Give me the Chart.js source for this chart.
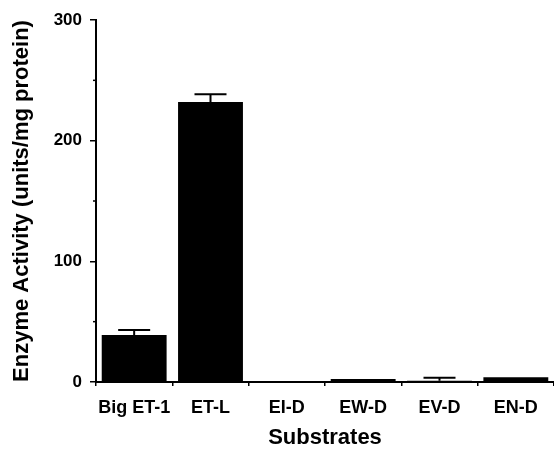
<!DOCTYPE html>
<html lang="en">
<head>
    <meta charset="UTF-8">
    <title>Enzyme Activity by Substrate</title>
    <script src="https://cdn.jsdelivr.net/npm/chart.js"></script>
    <style>
        body { margin: 0; background: #fff; }
    </style>
</head>
<body>
    <canvas id="enzymeChart" width="554" height="449"></canvas>

    <script>
        // Data
        const substrates = ["Big ET-1", "ET-L", "EI-D", "EW-D", "EV-D", "EN-D"];
        const activity = [39, 232, 0.5, 2.5, 1, 4];
        const activityErr = [4, 6.5, 0, 0, 2.5, 0];
        const yTicks = [0, 100, 200, 300];

        const FONT = "'Liberation Sans', Arial, sans-serif";

        // upper error bars + minor y ticks
        const extras = {
            id: "extras",
            afterDatasetsDraw(chart) {
                const ctx = chart.ctx;
                const y = chart.scales.y;
                const meta = chart.getDatasetMeta(0);
                ctx.save();
                ctx.strokeStyle = "#000";
                ctx.lineWidth = 2;
                meta.data.forEach((bar, i) => {
                    if (!activityErr[i]) return;
                    const top = y.getPixelForValue(activity[i] + activityErr[i]);
                    ctx.beginPath();
                    ctx.moveTo(bar.x, bar.y);
                    ctx.lineTo(bar.x, top);
                    ctx.moveTo(bar.x - 16, top);
                    ctx.lineTo(bar.x + 16, top);
                    ctx.stroke();
                });
                // minor ticks halfway between labelled ones
                ctx.lineWidth = 1.5;
                for (let k = 0; k < yTicks.length - 1; k++) {
                    const py = y.getPixelForValue((yTicks[k] + yTicks[k + 1]) / 2);
                    ctx.beginPath();
                    ctx.moveTo(y.right - 3, py);
                    ctx.lineTo(y.right, py);
                    ctx.stroke();
                }
                ctx.restore();
            }
        };

        new Chart(document.getElementById("enzymeChart"), {
            type: "bar",
            data: {
                labels: substrates,
                datasets: [{
                    data: activity,
                    backgroundColor: "#000",
                    borderWidth: 0,
                    barPercentage: 0.85,
                    categoryPercentage: 1.0
                }]
            },
            options: {
                responsive: false,
                animation: false,
                layout: { padding: { top: 20, right: 0, left: 0, bottom: 0 } },
                plugins: {
                    legend: { display: false },
                    tooltip: { enabled: false }
                },
                scales: {
                    x: {
                        offset: true,
                        grid: {
                            offset: true,
                            drawOnChartArea: false,
                            drawTicks: true,
                            tickLength: 4,
                            color: "#000",
                            lineWidth: 1.5
                        },
                        border: { color: "#000", width: 2 },
                        ticks: {
                            color: "#000",
                            padding: 11,
                            maxRotation: 0,
                            font: { family: FONT, size: 18, weight: "bold" }
                        },
                        title: {
                            display: true,
                            text: "Substrates",
                            color: "#000",
                            padding: { top: 8, bottom: 0 },
                            font: { family: FONT, size: 22, weight: "bold", lineHeight: 1.0 }
                        },
                        afterFit(scale) { scale.height = 67; }
                    },
                    y: {
                        min: 0,
                        max: 300,
                        afterBuildTicks(scale) {
                            scale.ticks = yTicks.map(v => ({ value: v }));
                        },
                        grid: {
                            drawOnChartArea: false,
                            drawTicks: true,
                            tickLength: 6,
                            color: "#000",
                            lineWidth: 1.5
                        },
                        border: { color: "#000", width: 2 },
                        ticks: {
                            color: "#000",
                            padding: 8,
                            font: { family: FONT, size: 17, weight: "bold" }
                        },
                        title: {
                            display: true,
                            text: "Enzyme Activity (units/mg protein)",
                            color: "#000",
                            padding: { top: 9, bottom: 4 },
                            font: { family: FONT, size: 22, weight: "bold" }
                        },
                        afterFit(scale) { scale.width = 96; }
                    }
                }
            },
            plugins: [extras]
        });
    </script>
</body>
</html>
